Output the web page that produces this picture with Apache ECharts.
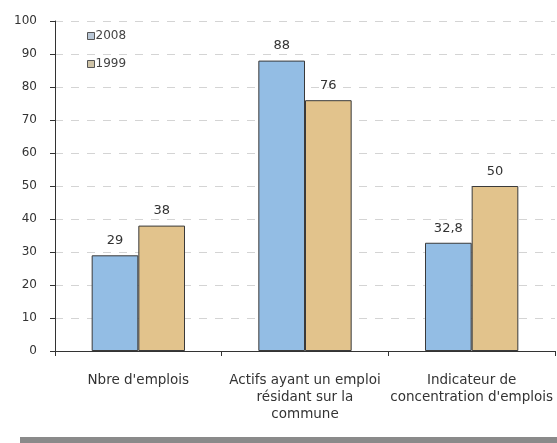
<!DOCTYPE html>
<html>
<head>
<meta charset="utf-8">
<script src="https://cdn.jsdelivr.net/npm/echarts@6/dist/echarts.min.js"></script>
<style>
  html, body { margin: 0; padding: 0; background: #fff; }
  #chart { width: 557px; height: 443px; }
</style>
</head>
<body>
<div id="chart"></div>
<script>
// Categories and values
const categories = [
  "Nbre d'emplois",
  "Actifs ayant un emploi\nrésidant sur la\ncommune",
  "Indicateur de\nconcentration d'emplois"
];
const values2008 = [29, 88, 32.8];
const values1999 = [38, 76, 50];
const yTicks = { min: 0, max: 100, interval: 10 };

const chart = echarts.init(document.getElementById('chart'));

const FONT = 'DejaVu Sans, Arial, sans-serif';

const labelStyle = {
  show: true,
  position: 'top',
  distance: 8,
  color: '#333',
  fontFamily: FONT,
  fontSize: 13,
  formatter: p => String(p.value).replace('.', ',')
};

chart.setOption({
  animation: false,
  grid: { left: 55, right: 2, top: 21, bottom: 92 },
  legend: {
    orient: 'vertical',
    left: 82,
    top: 25,
    icon: 'rect',
    itemWidth: 7,
    itemHeight: 7,
    itemGap: 16,
    textStyle: { color: '#444', fontSize: 12, fontFamily: FONT, padding: [0, 0, 0, -4] },
    data: [
      { name: '2008', itemStyle: { color: '#b9c7d6', borderColor: '#555', borderWidth: 1 } },
      { name: '1999', itemStyle: { color: '#cfc4a8', borderColor: '#555', borderWidth: 1 } }
    ]
  },
  xAxis: {
    type: 'category',
    data: categories,
    axisLine: { lineStyle: { color: '#333', width: 1 } },
    axisTick: { show: true, length: 5, lineStyle: { color: '#333' } },
    axisLabel: {
      color: '#333',
      fontSize: 13.5,
      lineHeight: 17,
      margin: 21,
      fontFamily: FONT,
      interval: 0
    }
  },
  yAxis: {
    type: 'value',
    min: yTicks.min,
    max: yTicks.max,
    interval: yTicks.interval,
    axisLine: { show: true, lineStyle: { color: '#333' } },
    axisTick: { show: true, length: 5, lineStyle: { color: '#333' } },
    axisLabel: {
      color: '#333',
      fontSize: 12,
      margin: 18,
      fontFamily: FONT
    },
    splitLine: { show: true, lineStyle: { color: '#d4d4d4', type: [8, 8] } }
  },
  series: [
    {
      name: '2008',
      type: 'bar',
      data: values2008,
      barGap: '0%',
      barCategoryGap: '44%',
      itemStyle: { color: '#93bde4', borderColor: '#3a3a3a', borderWidth: 1 },
      label: labelStyle
    },
    {
      name: '1999',
      type: 'bar',
      data: values1999,
      itemStyle: { color: '#e2c38c', borderColor: '#3a3a3a', borderWidth: 1 },
      label: labelStyle
    }
  ],
  graphic: [
    {
      type: 'rect',
      left: 20,
      top: 437,
      shape: { width: 537, height: 6 },
      style: { fill: '#8a8a8a' }
    }
  ]
});
</script>
</body>
</html>
